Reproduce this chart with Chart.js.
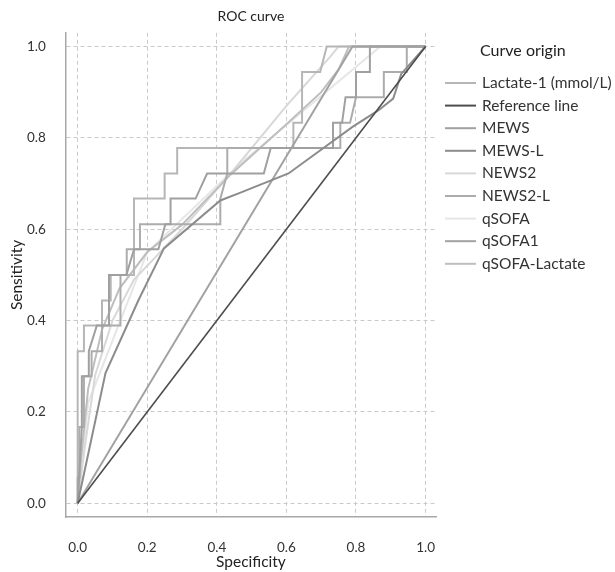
<!DOCTYPE html>
<html>
<head>
<meta charset="utf-8">
<script src="https://cdn.jsdelivr.net/npm/chart.js@4.4.1/dist/chart.umd.min.js"></script>
<style>
  html, body { margin: 0; padding: 0; background: #fff; }
  #wrap { width: 615px; height: 572px; }
</style>
</head>
<body>
<div id="wrap"><canvas id="rocChart"></canvas></div>
<script>
// ROC curves, points are [1 - specificity, sensitivity]
const tickValues = [0, 0.2, 0.4, 0.6, 0.8, 1.0];

const lactate1 = [[0,0],[0,0.333],[0.018,0.333],[0.018,0.389],[0.07,0.389],[0.07,0.444],[0.095,0.444],[0.095,0.5],[0.162,0.5],[0.162,0.667],[0.25,0.667],[0.25,0.722],[0.286,0.722],[0.286,0.778],[0.62,0.778],[0.62,0.833],[0.645,0.833],[0.645,0.944],[0.697,0.944],[0.716,1],[1,1]];
const referenceLine = [[0,0],[1,1]];
const mews = [[0,0],[0.012,0.167],[0.012,0.278],[0.032,0.278],[0.032,0.333],[0.055,0.389],[0.09,0.389],[0.09,0.5],[0.14,0.5],[0.162,0.556],[0.232,0.556],[0.252,0.611],[0.267,0.611],[0.267,0.667],[0.339,0.667],[0.372,0.722],[0.535,0.722],[0.555,0.778],[0.734,0.778],[0.734,0.833],[0.76,0.833],[0.77,0.889],[0.8,0.889],[0.8,0.944],[0.84,0.944],[0.84,1],[1,1]];
const mewsL = [[0,0],[0.08,0.285],[0.175,0.445],[0.248,0.558],[0.41,0.663],[0.468,0.68],[0.606,0.722],[0.79,0.824],[0.864,0.86],[0.907,0.886],[0.93,0.94],[1,1]];
const news2 = [[0,0],[0.02,0.12],[0.05,0.28],[0.1,0.4],[0.162,0.49],[0.3,0.6],[0.44,0.722],[0.6,0.87],[0.726,0.978],[0.75,1],[1,1]];
const news2L = [[0,0],[0,0.056],[0.005,0.056],[0.005,0.167],[0.018,0.167],[0.018,0.278],[0.04,0.278],[0.04,0.333],[0.07,0.333],[0.07,0.389],[0.123,0.389],[0.123,0.5],[0.141,0.5],[0.141,0.556],[0.179,0.556],[0.179,0.611],[0.41,0.611],[0.41,0.667],[0.43,0.722],[0.43,0.778],[0.755,0.778],[0.755,0.833],[0.783,0.833],[0.8,0.889],[0.88,0.889],[0.88,0.944],[0.946,0.944],[0.946,1],[1,1]];
const qsofa = [[0,0],[0.03,0.22],[0.2,0.55],[0.468,0.744],[0.87,1],[1,1]];
const qsofa1 = [[0,0],[0.79,1],[1,1]];
const qsofaLactate = [[0,0],[0.01,0.1],[0.03,0.25],[0.07,0.38],[0.12,0.47],[0.2,0.55],[0.3,0.61],[0.44,0.72],[0.6,0.83],[0.7,0.9],[0.75,0.95],[0.78,1],[1,1]];

const seriesNames = ['Lactate-1 (mmol/L)', 'Reference line', 'MEWS', 'MEWS-L', 'NEWS2', 'NEWS2-L', 'qSOFA', 'qSOFA1', 'qSOFA-Lactate'];
const seriesData = [lactate1, referenceLine, mews, mewsL, news2, news2L, qsofa, qsofa1, qsofaLactate];
const seriesColors = ['#b6b6b6', '#4d4d4d', '#a0a0a0', '#8c8c8c', '#d8d8d8', '#acacac', '#e6e6e6', '#a2a2a2', '#bebebe'];
const drawOrder = [3, 8, 5, 7, 1, 4, 0, 6, 2];

const FONT = 'Lato, "Open Sans", sans-serif';

const datasets = seriesNames.map((name, i) => ({
    label: name,
    data: seriesData[i].map(p => ({x: p[0], y: p[1]})),
    borderColor: seriesColors[i],
    backgroundColor: seriesColors[i],
    borderWidth: i === 1 ? 1.6 : 2,
    showLine: true,
    pointRadius: 0,
    tension: 0,
    fill: false,
    order: -drawOrder[i]   // lighter curves underneath
}));

function fixedTicks(scale) {
    scale.ticks = tickValues.map(v => ({value: v}));
}

// legend drawn beside the plot, in the original series order
const sideLegend = {
    id: 'sideLegend',
    afterDraw(chart) {
        const ctx = chart.ctx;
        ctx.save();
        ctx.textBaseline = 'middle';
        ctx.textAlign = 'left';
        ctx.fillStyle = '#222';
        ctx.font = '16px ' + FONT;
        ctx.fillText('Curve origin', 480, 51);
        ctx.font = '15.5px ' + FONT;
        chart.data.datasets.forEach((ds, i) => {
            const y = 83 + i * 22.6;
            ctx.strokeStyle = ds.borderColor;
            ctx.lineWidth = 2;
            ctx.beginPath();
            ctx.moveTo(445, y);
            ctx.lineTo(476, y);
            ctx.stroke();
            ctx.fillStyle = '#333';
            ctx.fillText(ds.label, 482, y);
        });
        ctx.restore();
    }
};

new Chart(document.getElementById('rocChart'), {
    type: 'scatter',
    data: {datasets: datasets},
    plugins: [sideLegend],
    options: {
        responsive: true,
        maintainAspectRatio: false,
        animation: false,
        layout: {padding: {left: 8, top: 4, right: 179, bottom: 2}},
        plugins: {
            title: {
                display: true,
                text: 'ROC curve',
                fullSize: false,
                color: '#222',
                font: {family: FONT, size: 14, weight: 'normal'},
                padding: {top: 4, bottom: 8}
            },
            legend: {display: false},
            tooltip: {enabled: false}
        },
        scales: {
            x: {
                type: 'linear',
                min: -0.034,
                max: 1.03,
                afterBuildTicks: fixedTicks,
                title: {display: true, text: 'Specificity', color: '#222', font: {family: FONT, size: 15.5}, padding: {top: -26.8, bottom: -1}},
                ticks: {callback: v => v.toFixed(1), color: '#333', font: {family: FONT, size: 13.5}, padding: 23},
                grid: {color: '#cacaca', drawTicks: false},
                border: {display: true, color: '#a8a8a8', width: 1.5, dash: [4, 3]}
            },
            y: {
                type: 'linear',
                min: -0.03,
                max: 1.03,
                afterBuildTicks: fixedTicks,
                title: {display: true, text: 'Sensitivity', color: '#222', font: {family: FONT, size: 15.5}, padding: {top: 0, bottom: -19.6}},
                ticks: {callback: v => v.toFixed(1), color: '#333', font: {family: FONT, size: 13.5}, padding: 20},
                grid: {color: '#cacaca', drawTicks: false},
                border: {display: true, color: '#a8a8a8', width: 1.5, dash: [4, 3]}
            }
        }
    }
});
</script>
</body>
</html>
